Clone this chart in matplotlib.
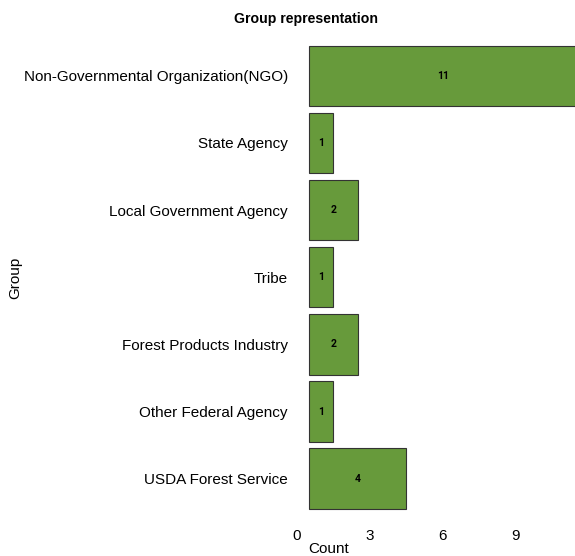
import matplotlib
matplotlib.use("Agg")
import matplotlib.pyplot as plt

plt.rcParams['font.family'] = ['Liberation Sans', 'DejaVu Sans']

# groups listed bottom to top
groups = ['USDA Forest Service', 'Other Federal Agency', 'Forest Products Industry',
          'Tribe', 'Local Government Agency', 'State Agency',
          'Non-Governmental Organization(NGO)']
counts = [4, 1, 2, 1, 2, 1, 11]
xticks = [0, 3, 6, 9]

fig = plt.figure(figsize=(5.75, 5.56), dpi=100)
ax = fig.add_axes([297 / 575, 37 / 556, 1 - 297 / 575, (519.5 - 36) / 556])

ypos = list(range(len(groups)))
ax.barh(ypos, counts, left=0.5, height=0.9, color='#679a3b',
        edgecolor='#333333', linewidth=0.8)
for y, c in zip(ypos, counts):
    ax.text(0.5 + c / 2, y, str(c), ha='center', va='center',
            fontsize=7.5, fontweight='bold', color='black', family=['Roboto', 'DejaVu Sans'])

ax.set_xlim(0, 278 / 24.33)
ax.set_ylim(-0.6, len(groups) - 0.4)
ax.set_yticks(ypos)
ax.set_yticklabels(groups, fontsize=11)
ax.set_xticks(xticks)
ax.set_xticklabels([str(t) for t in xticks], fontsize=11)
ax.tick_params(axis='both', length=0)
ax.tick_params(axis='y', pad=6.5)
ax.tick_params(axis='x', pad=7)
for s in ax.spines.values():
    s.set_visible(False)

fig.text(306 / 575, 1 - 19 / 556, 'Group representation', ha='center', va='center',
         fontsize=10.2, fontweight='bold')
fig.text(15 / 575, 1 - 278 / 556, 'Group', ha='center', va='center',
         rotation=90, fontsize=11)
fig.text(329 / 575, 1 - 549 / 556, 'Count', ha='center', va='center', fontsize=11)

fig.savefig('out.png', dpi=100)
